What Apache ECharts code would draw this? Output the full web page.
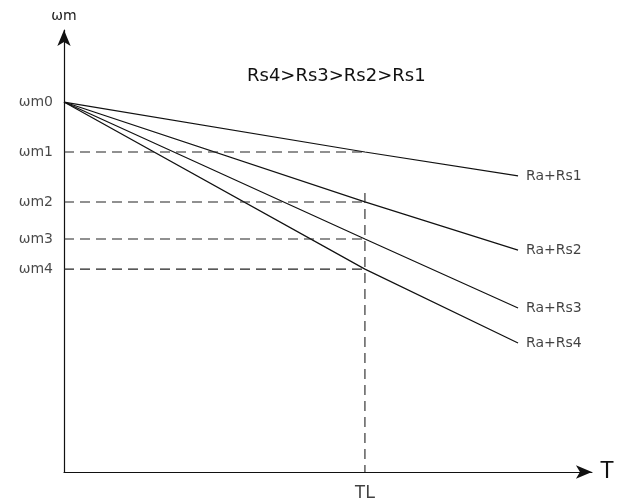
<!DOCTYPE html>
<html>
<head>
<meta charset="utf-8">
<script src="https://cdn.jsdelivr.net/npm/echarts@6/dist/echarts.min.js"></script>
<style>html,body{margin:0;padding:0;background:#fff}#c{width:617px;height:500px}</style>
</head>
<body>
<div id="c"></div>
<script>
// Torque positions (T axis, 0..100)
var tStart = 0;
var tLoad = 57;      // TL
var tEnd = 86;       // end of characteristic lines
// Speed levels (ωm axis, 0..100)
var speedNames = ['ωm0', 'ωm1', 'ωm2', 'ωm3', 'ωm4'];
var speedValues = [83.7, 72.4, 61.1, 52.7, 45.9];
// Characteristic lines: speed at T = tStart, tLoad, tEnd
var lineNames = ['Ra+Rs1', 'Ra+Rs2', 'Ra+Rs3', 'Ra+Rs4'];
var lineAtLoad = [72.4, 61.1, 52.7, 45.9];
var lineAtEnd = [67.0, 50.2, 37.1, 29.2];
var vertTop = 63.1;
var titleText = 'Rs4>Rs3>Rs2>Rs1';
var loadName = 'TL';

var ink = '#111';
var font = 'Liberation Sans, Arial';
var wfont = 'DejaVu Sans';
var series = [];
for (var i = 0; i < lineNames.length; i++) {
  series.push({
    type: 'line', symbol: 'none', silent: true, animation: false,
    lineStyle: { color: ink, width: 1.2 },
    data: [[tStart, speedValues[0]], [tLoad, lineAtLoad[i]], [tEnd, lineAtEnd[i]]]
  });
}
// dashed horizontal levels
for (var k = 1; k < speedNames.length; k++) {
  series.push({
    type: 'line', symbol: 'none', silent: true, animation: false,
    lineStyle: { color: '#222', width: 1.1, type: [10, 6] },
    data: [[tStart, speedValues[k]], [tLoad, speedValues[k]]]
  });
}
// vertical dashed TL
series.push({
  type: 'line', symbol: 'none', silent: true, animation: false,
  lineStyle: { color: '#222', width: 1.1, type: [10, 6] },
  data: [[tLoad, vertTop], [tLoad, 0]]
});
// labels
var lab = [];
for (var k2 = 0; k2 < speedNames.length; k2++) {
  lab.push({ value: [tStart, speedValues[k2]], label: { position: 'left', distance: 11, formatter: speedNames[k2], color: '#1a1a1a', fontSize: 14, fontFamily: wfont } });
}
for (var i2 = 0; i2 < lineNames.length; i2++) {
  lab.push({ value: [tEnd, lineAtEnd[i2]], label: { position: 'right', distance: 8, formatter: lineNames[i2], color: '#111', fontSize: 14, fontFamily: wfont } });
}
lab.push({ value: [tLoad, 0], label: { position: 'bottom', distance: 12, formatter: loadName, color: '#111', fontSize: 18, fontFamily: font } });
series.push({
  type: 'scatter', symbolSize: 0, silent: true, animation: false,
  itemStyle: { color: 'rgba(0,0,0,0)' },
  label: { show: true },
  data: lab
});

var chart = echarts.init(document.getElementById('c'));
chart.setOption({
  backgroundColor: '#fff',
  animation: false,
  title: { text: titleText, left: 242, top: 62,
    textStyle: { fontSize: 18, fontWeight: 'normal', color: '#111', fontFamily: wfont } },
  grid: { left: 64, right: 22, top: 30, bottom: 28 },
  xAxis: {
    type: 'value', min: 0, max: 100,
    name: 'T', nameLocation: 'end', nameGap: 8,
    nameTextStyle: { fontSize: 23, color: '#111', fontFamily: font, verticalAlign: 'middle' },
    axisLine: { onZero: false, lineStyle: { color: '#111', width: 1.2 }, symbol: ['none', 'arrow'], symbolSize: [10, 16] },
    axisTick: { show: false }, axisLabel: { show: false }, splitLine: { show: false }
  },
  yAxis: {
    type: 'value', min: 0, max: 100,
    name: 'ωm', nameLocation: 'end', nameGap: 7,
    nameTextStyle: { fontSize: 14, color: '#1a1a1a', fontFamily: wfont },
    axisLine: { onZero: false, lineStyle: { color: '#111', width: 1.2 }, symbol: ['none', 'arrow'], symbolSize: [10, 16] },
    axisTick: { show: false }, axisLabel: { show: false }, splitLine: { show: false }
  },
  series: series
});
</script>
</body>
</html>
